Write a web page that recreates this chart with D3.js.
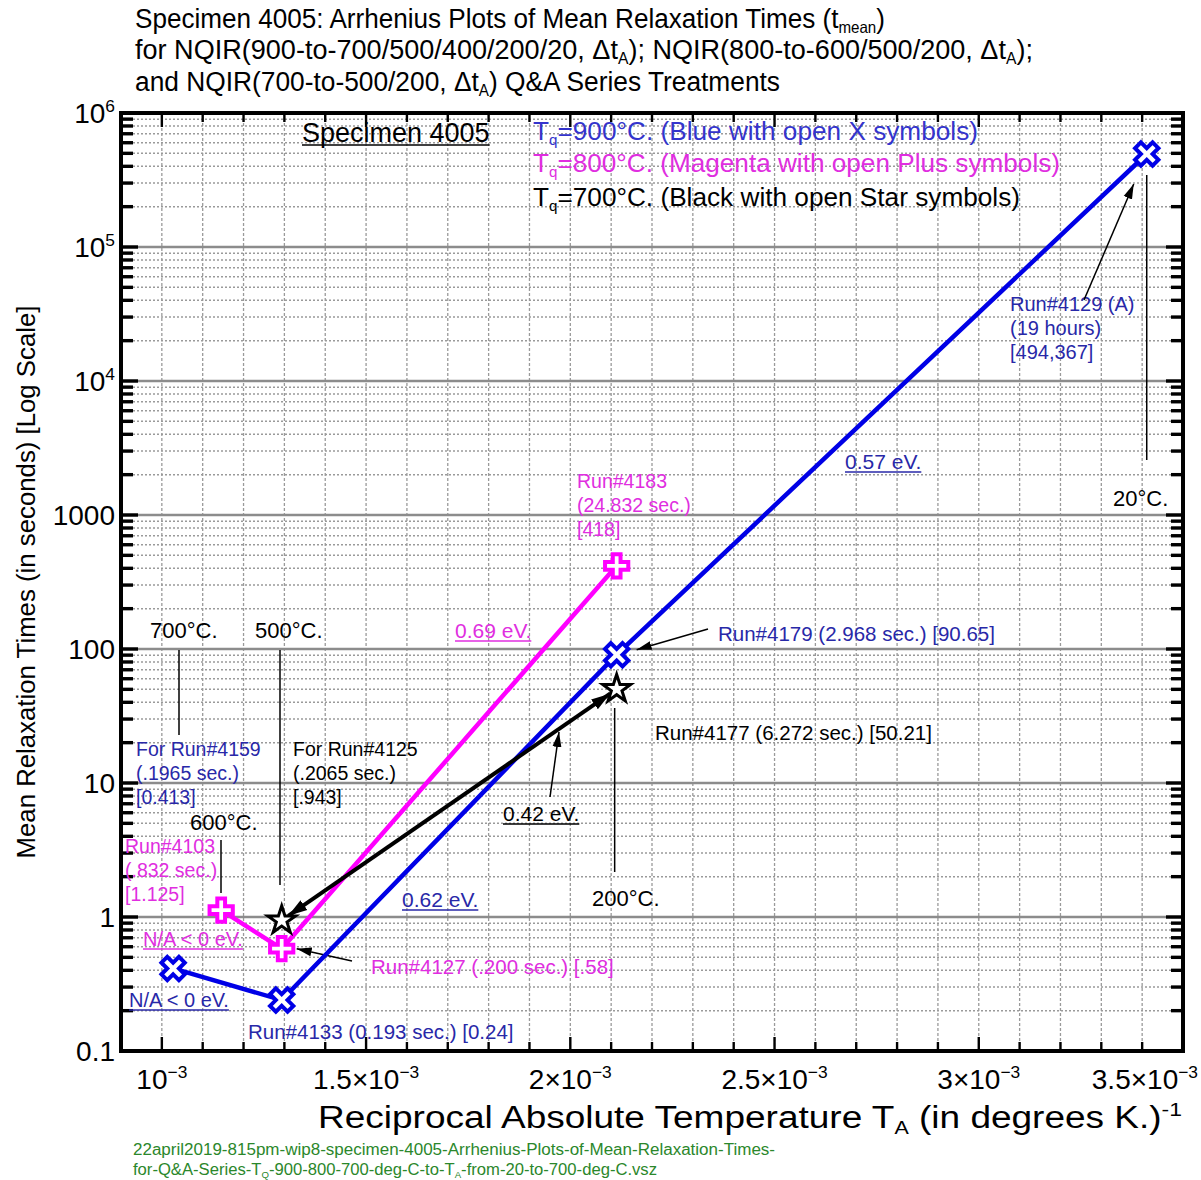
<!DOCTYPE html>
<html>
<head>
<meta charset="utf-8">
<script src="https://cdn.jsdelivr.net/npm/d3@7"></script>
<style>
  body { margin: 0; background: #fff; }
  svg { display: block; font-family: "Liberation Sans", Arial, sans-serif; }
</style>
</head>
<body>
<svg id="chart" width="1201" height="1180"></svg>
<script>
// ---- Data: anneal temperature T_A (°C) and mean relaxation time (s) ----
// Tq = 900 °C quench (blue, open X symbols)
const annealC900 = [700, 500, 200, 20];
const tmean900   = [0.413, 0.24, 90.65, 494367];
// Tq = 800 °C quench (magenta, open plus symbols)
const annealC800 = [600, 500, 200];
const tmean800   = [1.125, 0.58, 418];
// Tq = 700 °C quench (black, open star symbols)
const annealC700 = [500, 200];
const tmean700   = [0.943, 50.21];

// Axis ticks
const xTickValues = [1e-3, 1.5e-3, 2e-3, 2.5e-3, 3e-3, 3.5e-3];
const xTickLabels = ["10^{−3}", "1.5×10^{−3}", "2×10^{−3}", "2.5×10^{−3}", "3×10^{−3}", "3.5×10^{−3}"];
const yTickValues = [0.1, 1, 10, 100, 1000, 1e4, 1e5, 1e6];
const yTickLabels = ["0.1", "1", "10", "100", "1000", "10^{4}", "10^{5}", "10^{6}"];

// ---- Setup ----
const svg = d3.select("#chart");
const P = { left: 121, right: 1183, top: 113, bottom: 1051 };
const x = d3.scaleLinear().domain([0.9e-3, 3.5e-3]).range([P.left, P.right]);
const y = d3.scaleLog().domain([0.1, 1e6]).range([P.bottom, P.top]);
const recip = c => 1 / (c + 273.15);

const BLUE = "#0000e6", BLUE_TXT = "#2828a8", BLUE_LEG = "#3434cc";
const MAG = "#ff00ff", MAG_TXT = "#e02ee0";
const GRID = "#9a9a9a";

// Writes a string with _{sub} and ^{sup} runs into a text element
function rich(textSel, str, size) {
  const parts = str.split(/(_\{[^}]*\}|\^\{[^}]*\})/).filter(s => s.length);
  let shift = 0;
  parts.forEach(p => {
    const t = textSel.append("tspan");
    if (p.startsWith("_{")) {
      const s = size * 0.2;
      t.text(p.slice(2, -1)).attr("font-size", size * 0.58).attr("dy", s - shift);
      shift = s;
    } else if (p.startsWith("^{")) {
      const s = -size * 0.40;
      t.text(p.slice(2, -1)).attr("font-size", size * 0.62).attr("dy", s - shift);
      shift = s;
    } else {
      t.text(p);
      if (shift) t.attr("dy", -shift);
      shift = 0;
    }
  });
  return textSel;
}

function label(g, px, py, str, o = {}) {
  const size = o.size || 20;
  const t = g.append("text")
    .attr("x", px).attr("y", py)
    .attr("font-size", size)
    .attr("fill", o.color || "#000")
    .attr("text-anchor", o.anchor || "start");
  rich(t, str, size);
  if (o.len) t.attr("textLength", o.len).attr("lengthAdjust", "spacingAndGlyphs");
  if (o.underline) {
    const b = t.node().getBBox();
    g.append("line")
      .attr("x1", b.x).attr("x2", b.x + b.width)
      .attr("y1", py + 3).attr("y2", py + 3)
      .attr("stroke", o.color || "#000").attr("stroke-width", 1.6);
  }
  return t;
}

// ---- Arrow markers ----
const defs = svg.append("defs");
defs.append("marker").attr("id", "arrowThin")
  .attr("markerUnits", "userSpaceOnUse")
  .attr("markerWidth", 16).attr("markerHeight", 10)
  .attr("refX", 15).attr("refY", 5).attr("orient", "auto")
  .append("path").attr("d", "M0,0.5 L15,5 L0,9.5 Z").attr("fill", "#000");
defs.append("marker").attr("id", "arrowBold")
  .attr("markerUnits", "userSpaceOnUse")
  .attr("markerWidth", 20).attr("markerHeight", 14)
  .attr("refX", 19).attr("refY", 7).attr("orient", "auto-start-reverse")
  .append("path").attr("d", "M0,1 L19,7 L0,13 Z").attr("fill", "#000");

// ---- Grid ----
const gGrid = svg.append("g");
const xGrid = d3.range(10, 35).map(i => i * 1e-4);
gGrid.selectAll(".vg").data(xGrid).join("line")
  .attr("x1", d => x(d)).attr("x2", d => x(d))
  .attr("y1", P.top).attr("y2", P.bottom)
  .attr("stroke", GRID).attr("stroke-width", 1.3).attr("stroke-dasharray", "3,2");

const yMinor = [];
for (let e = -1; e <= 5; e++) for (let k = 2; k <= 9; k++) yMinor.push(k * Math.pow(10, e));
gGrid.selectAll(".hg").data(yMinor).join("line")
  .attr("x1", P.left).attr("x2", P.right)
  .attr("y1", d => y(d)).attr("y2", d => y(d))
  .attr("stroke", GRID).attr("stroke-width", 1.5).attr("stroke-dasharray", "2,2");

const yMajor = yTickValues.slice(1, -1);
gGrid.selectAll(".hm").data(yMajor).join("line")
  .attr("x1", P.left).attr("x2", P.right)
  .attr("y1", d => y(d)).attr("y2", d => y(d))
  .attr("stroke", "#8c8c8c").attr("stroke-width", 2.6);

// ---- Ticks (inward, all four sides) ----
const gTicks = svg.append("g").attr("stroke", "#000");
const isMajorY = d => Math.abs(Math.log10(d) - Math.round(Math.log10(d))) < 1e-9;
const yAll = yMinor.concat(yMajor);
gTicks.selectAll(".tl").data(yAll).join("line")
  .attr("x1", P.left).attr("x2", d => P.left + (isMajorY(d) ? 17 : 12))
  .attr("y1", d => y(d)).attr("y2", d => y(d)).attr("stroke-width", 3.4);
gTicks.selectAll(".tr").data(yAll).join("line")
  .attr("x1", P.right).attr("x2", d => P.right - (isMajorY(d) ? 17 : 12))
  .attr("y1", d => y(d)).attr("y2", d => y(d)).attr("stroke-width", 3.4);
const isMajorX = d => Math.abs(d / 5e-4 - Math.round(d / 5e-4)) < 1e-6;
gTicks.selectAll(".tb").data(xGrid).join("line")
  .attr("x1", d => x(d)).attr("x2", d => x(d))
  .attr("y1", P.bottom).attr("y2", d => P.bottom - (isMajorX(d) ? 14 : 9)).attr("stroke-width", 2.4);
gTicks.selectAll(".tt").data(xGrid).join("line")
  .attr("x1", d => x(d)).attr("x2", d => x(d))
  .attr("y1", P.top).attr("y2", d => P.top + (isMajorX(d) ? 14 : 9)).attr("stroke-width", 2.4);

// ---- Frame ----
svg.append("rect")
  .attr("x", P.left).attr("y", P.top)
  .attr("width", P.right - P.left).attr("height", P.bottom - P.top)
  .attr("fill", "none").attr("stroke", "#000").attr("stroke-width", 4);

// ---- Tick labels ----
const gLab = svg.append("g");
yTickValues.forEach((v, i) => {
  label(gLab, P.left - 6, y(v) + 10, yTickLabels[i], { size: 28, anchor: "end" });
});
xTickValues.forEach((v, i) => {
  const t = label(gLab, x(v), 1089, xTickLabels[i], { size: 28, anchor: "middle" });
  const b = t.node().getBBox();
  if (b.x + b.width > 1198) t.attr("x", x(v) - (b.x + b.width - 1198));
});

// ---- Axis titles ----
label(svg, 750, 1128, "Reciprocal Absolute Temperature T_{A} (in degrees K.)^{-1}",
  { size: 31, anchor: "middle", len: 864 });
svg.append("text")
  .attr("transform", "translate(35,582) rotate(-90)")
  .attr("text-anchor", "middle").attr("font-size", 26)
  .attr("textLength", 553).attr("lengthAdjust", "spacingAndGlyphs")
  .text("Mean Relaxation Times (in seconds) [Log Scale]");

// ---- Title ----
label(svg, 135, 28, "Specimen 4005: Arrhenius Plots of Mean Relaxation Times (t_{mean})", { size: 27, len: 750 });
label(svg, 135, 59, "for NQIR(900-to-700/500/400/200/20, Δt_{A}); NQIR(800-to-600/500/200, Δt_{A});", { size: 27, len: 898 });
label(svg, 135, 91, "and NQIR(700-to-500/200, Δt_{A}) Q&A Series Treatments", { size: 27, len: 645 });

// ---- Footer (source file name) ----
label(svg, 133, 1155, "22april2019-815pm-wip8-specimen-4005-Arrhenius-Plots-of-Mean-Relaxation-Times-",
  { size: 16, color: "#2b872b", len: 642 });
label(svg, 133, 1175, "for-Q&A-Series-T_{Q}-900-800-700-deg-C-to-T_{A}-from-20-to-700-deg-C.vsz",
  { size: 16, color: "#2b872b", len: 524 });

// ---- Annotations (leader lines, temperatures, run notes) ----
const gAnn = svg.append("g");
const vline = (px, y1, y2) => gAnn.append("line").attr("x1", px).attr("x2", px)
  .attr("y1", y1).attr("y2", y2).attr("stroke", "#000").attr("stroke-width", 1.5);
const arrow = (x1, y1, x2, y2) => gAnn.append("line")
  .attr("x1", x1).attr("y1", y1).attr("x2", x2).attr("y2", y2)
  .attr("stroke", "#000").attr("stroke-width", 1.5).attr("marker-end", "url(#arrowThin)");

label(gAnn, 302, 142, "Specimen 4005", { size: 27, underline: true });
label(gAnn, 533, 140, "T_{q}=900°C. (Blue with open X symbols)", { size: 26, color: BLUE_LEG, len: 445 });
label(gAnn, 533, 172, "T_{q}=800°C. (Magenta with open Plus symbols)", { size: 26, color: MAG_TXT, len: 527 });
label(gAnn, 533, 206, "T_{q}=700°C. (Black with open Star symbols)", { size: 26, color: "#000", len: 487 });

// 20 °C
const p20 = [x(recip(20)), y(tmean900[3])];
label(gAnn, 1010, 311, "Run#4129 (A)", { size: 20, color: BLUE_TXT });
label(gAnn, 1010, 335, "(19 hours)", { size: 20, color: BLUE_TXT });
label(gAnn, 1010, 359, "[494,367]", { size: 20, color: BLUE_TXT });
arrow(1084, 300, p20[0] - 13, p20[1] + 30);
vline(p20[0], 175, 460);
label(gAnn, 1113, 506, "20°C.", { size: 22 });

// activation energies
label(gAnn, 845, 469, "0.57 eV.", { size: 21, color: BLUE_TXT, underline: true });
label(gAnn, 455, 638, "0.69 eV.", { size: 21, color: MAG_TXT, underline: true });
label(gAnn, 402, 907, "0.62 eV.", { size: 21, color: BLUE_TXT, underline: true });
label(gAnn, 503, 821, "0.42 eV.", { size: 21, underline: true });
arrow(550, 797, 559, 732);

// 200 °C
const x200 = x(recip(200));
label(gAnn, 577, 488, "Run#4183", { size: 19.5, color: MAG_TXT });
label(gAnn, 577, 512, "(24.832 sec.)", { size: 19.5, color: MAG_TXT });
label(gAnn, 577, 536, "[418]", { size: 19.5, color: MAG_TXT });
label(gAnn, 718, 641, "Run#4179 (2.968 sec.) [90.65]", { size: 20.5, color: BLUE_TXT });
arrow(708, 629, x200 + 20, y(tmean900[2]) - 5);
label(gAnn, 655, 740, "Run#4177 (6.272 sec.) [50.21]", { size: 20.5 });
vline(x200 - 2, 708, 872);
label(gAnn, 592, 906, "200°C.", { size: 22 });

// 700 / 600 / 500 °C
label(gAnn, 150, 638, "700°C.", { size: 22 });
vline(179, 650, 735);
label(gAnn, 255, 638, "500°C.", { size: 22 });
vline(280, 650, 885);
label(gAnn, 136, 756, "For Run#4159", { size: 19.5, color: BLUE_TXT });
label(gAnn, 136, 780, "(.1965 sec.)", { size: 19.5, color: BLUE_TXT });
label(gAnn, 136, 804, "[0.413]", { size: 19.5, color: BLUE_TXT });
label(gAnn, 293, 756, "For Run#4125", { size: 19.5 });
label(gAnn, 293, 780, "(.2065 sec.)", { size: 19.5 });
label(gAnn, 293, 804, "[.943]", { size: 19.5 });
label(gAnn, 190, 830, "600°C.", { size: 22 });
vline(221, 840, 893);
label(gAnn, 125, 853, "Run#4103", { size: 19.5, color: MAG_TXT });
label(gAnn, 125, 877, "(.832 sec.)", { size: 19.5, color: MAG_TXT });
label(gAnn, 125, 901, "[1.125]", { size: 19.5, color: MAG_TXT });
label(gAnn, 143, 946, "N/A < 0 eV.", { size: 20, color: MAG_TXT, underline: true });
label(gAnn, 129, 1007, "N/A < 0 eV.", { size: 20, color: BLUE_TXT, underline: true });
label(gAnn, 248, 1039, "Run#4133 (0.193 sec.) [0.24]", { size: 20.5, color: BLUE_TXT });
label(gAnn, 371, 974, "Run#4127 (.200 sec.) [.58]", { size: 20.5, color: MAG_TXT });
arrow(352, 961, x(recip(500)) + 15, y(tmean800[1]));

// ---- Series ----
const toPts = (cs, ts) => cs.map((c, i) => ({ c, t: ts[i] }));
const s900 = toPts(annealC900, tmean900);
const s800 = toPts(annealC800, tmean800);
const s700 = toPts(annealC700, tmean700);
const line = d3.line().x(d => x(recip(d.c))).y(d => y(d.t));
const gS = svg.append("g");

gS.append("path").datum(s900).attr("d", line)
  .attr("fill", "none").attr("stroke", BLUE).attr("stroke-width", 4.5);
gS.append("path").datum(s800).attr("d", line)
  .attr("fill", "none").attr("stroke", MAG).attr("stroke-width", 4.5);

// black series drawn with arrowheads pointing at its two points
{
  const a = [x(recip(s700[0].c)), y(s700[0].t)];
  const b = [x(recip(s700[1].c)), y(s700[1].t)];
  const L = Math.hypot(b[0] - a[0], b[1] - a[1]);
  const ux = (b[0] - a[0]) / L, uy = (b[1] - a[1]) / L, cut = 8;
  gS.append("line")
    .attr("x1", a[0] + ux * cut).attr("y1", a[1] + uy * cut)
    .attr("x2", b[0] - ux * cut).attr("y2", b[1] - uy * cut)
    .attr("stroke", "#000").attr("stroke-width", 4)
    .attr("marker-start", "url(#arrowBold)").attr("marker-end", "url(#arrowBold)");
}

const symX = d3.symbol(d3.symbolCross, 340)();
const symPlus = d3.symbol(d3.symbolCross, 300)();
const symStar = d3.symbol(d3.symbolStar, 240)();

gS.selectAll(".m7").data(s700).join("path").attr("d", symStar)
  .attr("transform", d => `translate(${x(recip(d.c))},${y(d.t)})`)
  .attr("fill", "#fff").attr("stroke", "#000").attr("stroke-width", 3)
  .attr("stroke-linejoin", "miter");
gS.selectAll(".m9").data(s900).join("path").attr("d", symX)
  .attr("transform", d => `translate(${x(recip(d.c))},${y(d.t)}) rotate(45)`)
  .attr("fill", "#fff").attr("stroke", BLUE).attr("stroke-width", 4);
gS.selectAll(".m8").data(s800).join("path").attr("d", symPlus)
  .attr("transform", d => `translate(${x(recip(d.c))},${y(d.t)})`)
  .attr("fill", "#fff").attr("stroke", MAG).attr("stroke-width", 4);
</script>
</body>
</html>
